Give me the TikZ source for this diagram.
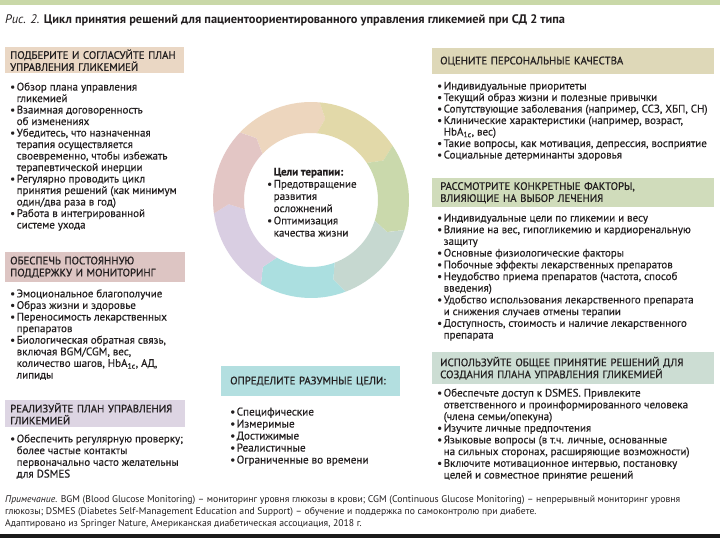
\documentclass[tikz,border=0pt]{standalone}
\usepackage{fontspec}
\setmainfont{PT Sans}
\newfontfamily\hdfam{PT Sans}[FakeBold=0.8]
\newfontfamily\bodyfam{PT Sans}[FakeBold=0.3]
\usepackage{tikz}
\usetikzlibrary{calc}

\definecolor{txt}{HTML}{231F20}
\definecolor{topbar}{HTML}{C9D8A8}
\definecolor{botbar}{HTML}{1A1A1A}
\definecolor{hpeach}{HTML}{EAD7C4}
\definecolor{hpink}{HTML}{DDC5C3}
\definecolor{hlilac}{HTML}{DDD5E3}
\definecolor{hkhaki}{HTML}{DED8B8}
\definecolor{hgreen}{HTML}{D0DCBB}
\definecolor{hgray}{HTML}{CCDDD3}
\definecolor{hcyan}{HTML}{B3DFE0}
\definecolor{rpeach}{HTML}{EDD6BE}
\definecolor{rkhaki}{HTML}{E2D9A9}
\definecolor{rgreen}{HTML}{CAD9AC}
\definecolor{rgray}{HTML}{C6D8D0}
\definecolor{rcyan}{HTML}{ABDFE0}
\definecolor{rlilac}{HTML}{D9CEE2}
\definecolor{rpink}{HTML}{E3C6C5}

\newcommand{\bodyfont}[1]{\bodyfam\fontsize{11}{#1}\selectfont}
\newcommand{\hdfont}{\hdfam\fontsize{10.8}{12}\selectfont}
\newcommand{\bul}{\makebox[6.5pt][l]{\textbullet}}
\newcommand{\ind}{\hspace*{6.5pt}}
\newcommand{\hba}{HbA\textsubscript{1c}}

\tikzset{
    every picture/.append style={x=1pt, y=-1pt},
    hdbox/.style={fill=#1, anchor=north west, inner xsep=5pt, inner ysep=0pt, align=left, font=\hdfont, text=txt},
    bullist/.style={anchor=base west, inner sep=0pt, align=left, font=\bodyfont{#1}, text=txt},
    bullist/.default=11.6,
    plain/.style={anchor=base west, inner sep=0pt, align=left, text=txt},
}

\begin{document}
\begin{tikzpicture}
    \useasboundingbox (0,0) rectangle (720,540);
    \fill[white] (0,0) rectangle (720,540);
    \fill[topbar] (0,0) rectangle (720,5);
    \fill[botbar] (0,534) rectangle (720,538);

    \node[plain, font=\fontsize{12.4}{14}\selectfont] (title) at (5,24) {\textit{Рис. 2.} \textbf{Цикл принятия решений для пациентоориентированного управления гликемией при СД 2 типа}};

    \coordinate (c) at (311,200);
    \foreach \a/\col in {136.4/rpeach, 85/rkhaki, 33.6/rgreen, -17.9/rgray, -69.3/rcyan, -120.7/rlilac, -172.1/rpink}{
        \pgfmathsetmacro{\b}{\a-51.43}
        \fill[\col] ($(c)+(\a:98pt)$) arc[start angle=\a, end angle=\b, radius=98pt]
            -- ($(c)+(\b-5:82.5pt)$) -- ($(c)+(\b:67pt)$) arc[start angle=\b, end angle=\a, radius=67pt]
            -- ($(c)+(\a-5:82.5pt)$) -- cycle;
    }
    \node[bullist, font=\bodyfam\fontsize{11}{12.2}\selectfont] (goals) at (267,236.5) {\ind\textbf{Цели терапии:}\\
        \bul Предотвращение\\\ind развития\\\ind осложнений\\
        \bul Оптимизация\\\ind качества жизни};

    \node[hdbox=hpeach, minimum height=26pt, text width=169pt] (hplan) at (5,47) {ПОДБЕРИТЕ И СОГЛАСУЙТЕ ПЛАН\\УПРАВЛЕНИЯ ГЛИКЕМИЕЙ};
    \node[bullist=11.5] (lplan) at (10,228.5) {\bul Обзор плана управления\\\ind гликемией\\
        \bul Взаимная договоренность\\\ind об изменениях\\
        \bul Убедитесь, что назначенная\\\ind терапия осуществляется\\\ind своевременно, чтобы избежать\\\ind терапевтической инерции\\
        \bul Регулярно проводить цикл\\\ind принятия решений (как минимум\\\ind один/два раза в год)\\
        \bul Работа в интегрированной\\\ind системе ухода};

    \node[hdbox=hpink, minimum height=30pt, text width=170pt] (hsupp) at (5,252) {ОБЕСПЕЧЬ ПОСТОЯННУЮ\\ПОДДЕРЖКУ И МОНИТОРИНГ};
    \node[bullist=11.6] (lsupp) at (10,378.5) {\bul Эмоциональное благополучие\\
        \bul Образ жизни и здоровье\\
        \bul Переносимость лекарственных\\\ind препаратов\\
        \bul Биологическая обратная связь,\\\ind включая BGM/CGM, вес,\\\ind количество шагов, \hba, АД,\\\ind липиды};

    \node[hdbox=hlilac, minimum height=27pt, text width=170pt] (himpl) at (5,400) {РЕАЛИЗУЙТЕ ПЛАН УПРАВЛЕНИЯ\\ГЛИКЕМИЕЙ};
    \node[bullist=11.7] (limpl) at (10,477.5) {\bul Обеспечить регулярную проверку;\\\ind более частые контакты\\\ind первоначально часто желательны\\\ind для DSMES};

    \node[hdbox=hkhaki, minimum height=26pt, text width=266pt, inner xsep=8pt] (hpers) at (432,48) {ОЦЕНИТЕ ПЕРСОНАЛЬНЫЕ КАЧЕСТВА};
    \node[bullist=11.5] (lpers) at (437,158.5) {\bul Индивидуальные приоритеты\\
        \bul Текущий образ жизни и полезные привычки\\
        \bul Сопутствующие заболевания (например, ССЗ, ХБП, СН)\\
        \bul Клинические характеристики (например, возраст,\\\ind \hba, вес)\\
        \bul Такие вопросы, как мотивация, депрессия, восприятие\\
        \bul Социальные детерминанты здоровья};

    \node[hdbox=hgreen, minimum height=29pt, text width=266pt, inner xsep=8pt] (hfact) at (432,178) {РАССМОТРИТЕ КОНКРЕТНЫЕ ФАКТОРЫ,\\ВЛИЯЮЩИЕ НА ВЫБОР ЛЕЧЕНИЯ};
    \node[bullist=11.7] (lfact) at (437,338.5) {\bul Индивидуальные цели по гликемии и весу\\
        \bul Влияние на вес, гипогликемию и кардиоренальную\\\ind защиту\\
        \bul Основные физиологические факторы\\
        \bul Побочные эффекты лекарственных препаратов\\
        \bul Неудобство приема препаратов (частота, способ\\\ind введения)\\
        \bul Удобство использования лекарственного препарата\\\ind и снижения случаев отмены терапии\\
        \bul Доступность, стоимость и наличие лекарственного\\\ind препарата};

    \node[hdbox=hgray, minimum height=32pt, text width=266pt, inner xsep=8pt] (hshare) at (432,352) {ИСПОЛЬЗУЙТЕ ОБЩЕЕ ПРИНЯТИЕ РЕШЕНИЙ ДЛЯ\\СОЗДАНИЯ ПЛАНА УПРАВЛЕНИЯ ГЛИКЕМИЕЙ};
    \node[bullist=11.7] (lshare) at (437,478.5) {\bul Обеспечьте доступ к DSMES. Привлеките\\\ind ответственного и проинформированного человека\\\ind (члена семьи/опекуна)\\
        \bul Изучите личные предпочтения\\
        \bul Языковые вопросы (в т.ч. личные, основанные\\\ind на сильных сторонах, расширяющие возможности)\\
        \bul Включите мотивационное интервью, постановку\\\ind целей и совместное принятие решений};

    \node[hdbox=hcyan, minimum height=30pt, text width=161pt, inner xsep=9pt] (hgoal) at (221,366) {ОПРЕДЕЛИТЕ РАЗУМНЫЕ ЦЕЛИ:};
    \node[bullist, font=\bodyfam\fontsize{11.2}{12}\selectfont] (lgoal) at (230,463.5) {\bul Специфические\\
        \bul Измеримые\\
        \bul Достижимые\\
        \bul Реалистичные\\
        \bul Ограниченные во времени};

    \node[plain, font=\fontsize{9.7}{12}\selectfont] (note) at (5,526) {\textit{Примечание.} BGM (Blood Glucose Monitoring) – мониторинг уровня глюкозы в крови; CGM (Continuous Glucose Monitoring) – непрерывный мониторинг уровня\\
        глюкозы; DSMES (Diabetes Self-Management Education and Support) – обучение и поддержка по самоконтролю при диабете.\\
        Адаптировано из Springer Nature, Американская диабетическая ассоциация, 2018 г.};
\end{tikzpicture}
\end{document}
